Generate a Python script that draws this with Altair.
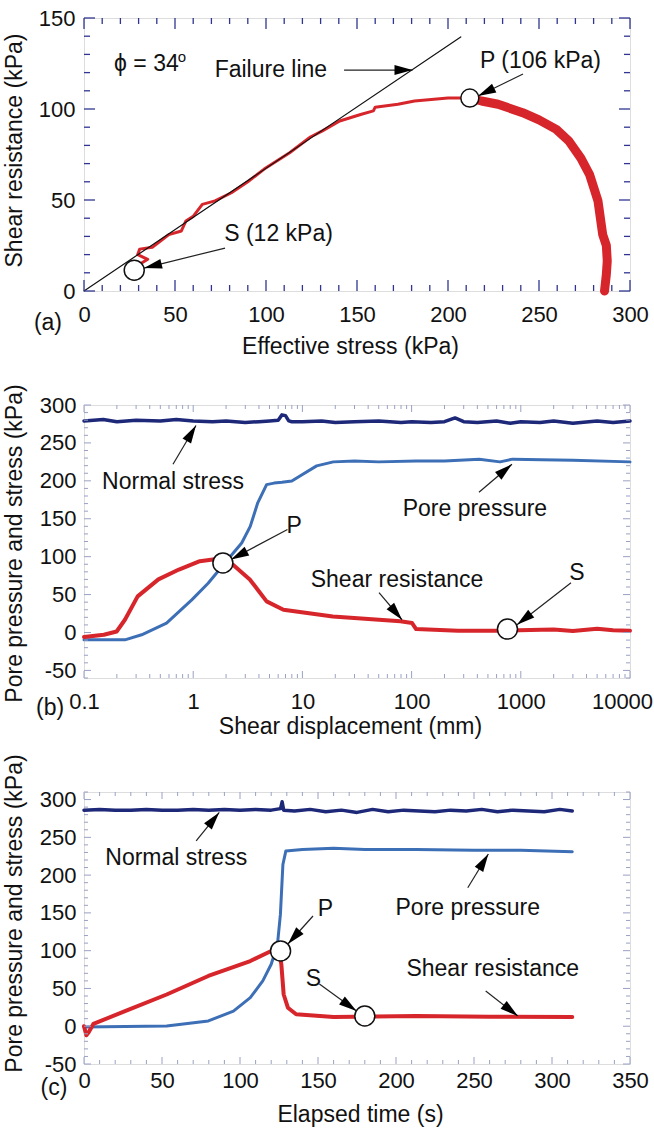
import math
import altair as alt
import pandas as pd

FONT = "Liberation Sans"
RED = "#d7262b"
NAVY = "#1d2878"
BLUE = "#3d6fb6"
FRAME = "#2f3590"
TXT = "#111111"
TICK_BC = "#9aa0c4"

# ---------------- panel (a): stress path ----------------
a_pre_x = [286, 287, 287.5, 287, 285, 282.4, 277.8, 273, 266.4, 259.5, 250, 241, 227.5, 218.4, 212]
a_pre_y = [0, 9, 16.5, 25, 31, 49.5, 64, 73, 82.4, 88.8, 94, 98, 102.6, 104.4, 106]
a_post_x = [212, 200, 181.6, 172.5, 160, 159, 152, 140.5, 131, 124.4, 113, 99, 90, 81, 72, 65, 60,
            56, 53.5, 46.6, 42, 37.5, 30.6, 29.5, 35, 31, 27.6]
a_post_y = [106, 106, 104.4, 102.6, 101, 99, 97, 93.4, 88, 84.6, 76, 67, 60, 54, 49.5, 47.6, 41,
            38.5, 33, 31, 27.5, 24, 23, 20, 17.4, 15, 11.4]
fail_x = [0, 207]
fail_y = [0, 139.6]
a_circ_x = [212, 27.6]
a_circ_y = [106, 11.4]
a_circ_d = [18, 20]

# ---------------- panel (b): vs shear displacement ----------------
ns_b_x = [0.1, 0.15, 0.2, 0.3, 0.5, 0.7, 1, 1.5, 2, 3, 4, 5, 6, 6.5, 7, 7.5, 8, 10, 15, 20, 30, 50,
          80, 100, 150, 200, 250, 300, 400, 600, 800, 1000, 1500, 2000, 3000, 5000, 7000, 10000]
ns_b_y = [279, 281, 278, 280, 279, 281, 279, 278, 279, 277, 278, 279, 280, 287, 286, 279, 278, 278,
          279, 277, 278, 279, 277, 278, 277, 278, 283, 278, 277, 279, 276, 278, 277, 279, 276, 279,
          277, 279]
pp_b_x = [0.1, 0.237, 0.337, 0.57, 0.97, 1.37, 1.95, 2.78, 3.33, 3.9, 4.7, 5.5, 6.5, 8.0, 9.5, 13.5,
          19.2, 30, 50, 110, 200, 416, 645, 840, 1550, 3000, 10000]
pp_b_y = [-9.7, -9.7, -3, 12.4, 43, 65, 91.7, 118, 140, 171, 195, 197, 198, 199.8, 206.5, 219.7,
          225, 226, 225, 226.3, 226, 228.6, 225, 228.6, 227.8, 227, 225]
sr_b_x = [0.1, 0.152, 0.199, 0.237, 0.31, 0.48, 0.74, 1.15, 1.64, 2.3, 3.3, 4.7, 6.7, 19, 78.8, 101,
          110, 266, 645, 1550, 2000, 3000, 5000, 7000, 10000]
sr_b_y = [-6, -3, 1.3, 16.8, 47.6, 70, 83, 94, 97, 89.6, 70, 41, 30, 21, 14.7, 12.4, 4.5, 2.3, 2.3,
          3.5, 4, 2, 5, 3, 2.3]
b_circ_x = [1.87, 755]
b_circ_y = [91.7, 4.5]
b_circ_d = [20, 20]

# ---------------- panel (c): vs elapsed time ----------------
ns_c_x = [0, 10, 20, 30, 40, 50, 60, 70, 80, 90, 100, 110, 120, 126, 127, 128, 135, 145, 155, 165,
          175, 185, 195, 205, 215, 225, 235, 245, 255, 265, 275, 285, 295, 305, 313]
ns_c_y = [286, 287, 286, 286, 287, 286, 286, 287, 286, 287, 286, 287, 286, 288, 297, 286, 285, 287,
          284, 286, 283, 287, 284, 286, 285, 284, 286, 285, 287, 284, 286, 285, 284, 287, 285]
pp_c_x = [0, 53, 79.7, 95.8, 106.6, 114.6, 120, 124, 125.9, 127.5, 129.4, 140, 160, 180, 213, 250,
          280, 313]
pp_c_y = [-1, 0.3, 7, 20, 37.8, 60, 82, 108, 148, 214, 232, 234, 235.5, 234, 234, 233, 233, 231]
sr_c_x = [0, 1.5, 3, 6, 26.3, 53, 79.7, 106.6, 120, 124.8, 126.5, 128, 130.7, 136, 160, 213, 260, 313]
sr_c_y = [0, -12, -8, 3, 20, 42, 66.5, 86.3, 99.6, 104, 82, 42, 24.5, 15.8, 12.2, 13.5, 12.5, 12.2]
c_circ_x = [126, 180]
c_circ_y = [99.6, 13.5]
c_circ_d = [20, 20]

# ---------------- axis ticks ----------------
a_x_major = [0, 50, 100, 150, 200, 250, 300]
a_y_major = [0, 50, 100, 150]
a_x_minor = [v for v in range(0, 301, 10) if v % 50]
a_y_minor = [v for v in range(0, 151, 10) if v % 50]
b_x_major = [0.1, 1, 10, 100, 1000, 10000]
b_x_minor = [k * 10.0 ** d for d in range(-1, 4) for k in range(2, 10)]
bc_y_major = [-50, 0, 50, 100, 150, 200, 250, 300]
b_y_minor = [v for v in range(-60, 301, 10) if v % 50]
c_x_major = [0, 50, 100, 150, 200, 250, 300, 350]
c_x_minor = [v for v in range(0, 351, 10) if v % 50]
c_y_minor = [v for v in range(-50, 311, 10) if v % 50]

W = 546
HA, HB, HC = 273, 273, 272

HEAD = "M0,0L0.55,2L-0.55,2Z"


def head_df(arrows, fx, fy):
    rows = []
    for x0, y0, x1, y1 in arrows:
        dx = fx(x1) - fx(x0)
        dy = fy(y1) - fy(y0)
        ang = math.degrees(math.atan2(dx, -dy)) % 360
        rows.append(dict(x0=x0, y0=y0, x1=x1, y1=y1, ang=ang))
    return pd.DataFrame(rows)


def build_panel(H, xs, ys, xaxis, yaxis, xtitle, ytitle, lines, circles, arrows, texts, ticks,
                fx, fy):
    def X(f):
        return alt.X(f, scale=xs, axis=xaxis, title=xtitle)

    def Y(f):
        return alt.Y(f, scale=ys, axis=yaxis, title=ytitle)

    layers = []
    for lx, ly, col, sw in lines:
        df = pd.DataFrame({"x": lx, "y": ly, "o": list(range(len(lx)))})
        layers.append(
            alt.Chart(df).mark_line(color=col, strokeWidth=sw, strokeJoin="round",
                                    strokeCap="round").encode(x=X("x:Q"), y=Y("y:Q"), order="o:Q"))
    xmaj, xmin, ymaj, ymin, lmaj, lmin, tcol, tw = ticks
    # ticks (inward, on all four sides)
    for vals, L in [(xmaj, lmaj), (xmin, lmin)]:
        df = pd.DataFrame({"x": vals})
        base = alt.Chart(df).mark_rule(color=tcol, strokeWidth=tw)
        layers.append(base.encode(x=X("x:Q"), y=alt.value(H), y2=alt.value(H - L)))
        layers.append(base.encode(x=X("x:Q"), y=alt.value(0), y2=alt.value(L)))
    for vals, L in [(ymaj, lmaj), (ymin, lmin)]:
        df = pd.DataFrame({"y": vals})
        base = alt.Chart(df).mark_rule(color=tcol, strokeWidth=tw)
        layers.append(base.encode(y=Y("y:Q"), x=alt.value(0), x2=alt.value(L)))
        layers.append(base.encode(y=Y("y:Q"), x=alt.value(W), x2=alt.value(W - L)))
    hd = head_df(arrows, fx, fy)
    layers.append(alt.Chart(hd).mark_rule(color="#222222", strokeWidth=1.2).encode(
        x=X("x0:Q"), x2="x1:Q", y=Y("y0:Q"), y2="y1:Q"))
    layers.append(alt.Chart(hd).mark_point(shape=HEAD, filled=True, color="#000000", opacity=1,
                                           size=324, strokeWidth=0).encode(
        x=X("x1:Q"), y=Y("y1:Q"), angle=alt.Angle("ang:Q", scale=None)))
    cx, cy, cd = circles
    cdf = pd.DataFrame({"x": cx, "y": cy, "s": [d * d for d in cd]})
    layers.append(alt.Chart(cdf).mark_point(shape="circle", filled=True, fill="white",
                                            stroke="#111111", strokeWidth=1.5, opacity=1).encode(
        x=X("x:Q"), y=Y("y:Q"), size=alt.Size("s:Q", scale=None)))
    for tx, ty, lab, fs in texts:
        tdf = pd.DataFrame({"x": [tx], "y": [ty], "t": [lab]})
        layers.append(alt.Chart(tdf).mark_text(font=FONT, fontSize=fs, color=TXT, align="center",
                                               baseline="middle").encode(
            x=X("x:Q"), y=Y("y:Q"), text="t:N"))
    return alt.layer(*layers).properties(width=W, height=H)


def xaxis(values, title_x, title_y, pad, last_shift=0):
    kw = {}
    if last_shift:
        kw["labelOffset"] = alt.condition("datum.value == %s" % values[-1],
                                          alt.value(last_shift), alt.value(0))
    return alt.Axis(values=values, ticks=False, tickSize=0, domain=False, grid=False,
                    labelFont=FONT, labelFontSize=22, labelColor=TXT, labelPadding=pad,
                    labelFlush=False, labelOverlap=False, labelExpr="toString(datum.value)",
                    titleFont=FONT, titleFontSize=23, titleFontWeight="normal", titleColor=TXT,
                    titleX=title_x, titleY=title_y, titleBaseline="middle", titleAlign="center",
                    **kw)


def yaxis(values, title_y, pad):
    return alt.Axis(values=values, ticks=False, tickSize=0, domain=False, grid=False,
                    labelFont=FONT, labelFontSize=22, labelColor=TXT, labelPadding=pad,
                    labelFlush=False, labelOverlap=False, labelExpr="toString(datum.value)",
                    titleFont=FONT, titleFontSize=23, titleFontWeight="normal", titleColor=TXT,
                    titleX=-58, titleY=title_y, titleAngle=270, titleBaseline="bottom",
                    titleAlign="center")


# ---- panel (a)
xs_a = alt.Scale(domain=[0, 300], nice=False, zero=False)
ys_a = alt.Scale(domain=[0, 150], nice=False, zero=False)
fx_a = lambda v: v / 300 * W
fy_a = lambda v: HA - v / 150 * HA
arrows_a = [(142.9, 121.4, 180.5, 121.4), (241.2, 119.2, 216.5, 107.1), (77.5, 23.6, 33, 12.6)]
texts_a = [(34.3, 124.5, "ϕ = 34", 23), (53.8, 128.6, "o", 15), (102.7, 121.7, "Failure line", 23),
           (250.8, 126.4, "P (106 kPa)", 23), (106.9, 31.3, "S (12 kPa)", 23),
           (-19.8, -17.6, "(a)", 23)]
pa = build_panel(
    HA, xs_a, ys_a, xaxis(a_x_major, 266, 55, 13), yaxis(a_y_major, 132, 9),
    "Effective stress (kPa)", "Shear resistance (kPa)",
    [(a_post_x, a_post_y, RED, 3), (a_pre_x, a_pre_y, RED, 9), (fail_x, fail_y, "#111111", 1.2)],
    (a_circ_x, a_circ_y, a_circ_d), arrows_a, texts_a,
    (a_x_major, a_x_minor, a_y_major, a_y_minor, 11, 6, FRAME, 1.3), fx_a, fy_a)

# ---- panel (b)
xs_b = alt.Scale(type="log", domain=[0.1, 10000], nice=False)
ys_b = alt.Scale(domain=[-60, 300], nice=False, zero=False)
fx_b = lambda v: (math.log10(v) + 1) / 5 * W
fy_b = lambda v: HB * (300 - v) / 360
arrows_b = [(0.653, 221.9, 1.06, 273), (414, 184.9, 830, 221.9), (7.3, 135.9, 2.22, 96.2),
            (50.3, 52.5, 81.7, 16.8), (2884, 65.7, 923, 10.2)]
texts_b = [(0.653, 198, "Normal stress", 23), (380, 162.4, "Pore pressure", 23), (8.4, 140, "P", 23),
           (73.5, 69.7, "Shear resistance", 23), (3273, 79, "S", 23), (0.0489, -99.7, "(b)", 23)]
pb = build_panel(
    HB, xs_b, ys_b, xaxis(b_x_major, 266, 48, 13, last_shift=-8), yaxis(bc_y_major, 138, 8),
    "Shear displacement (mm)", "Pore pressure and stress (kPa)",
    [(ns_b_x, ns_b_y, NAVY, 3.5), (pp_b_x, pp_b_y, BLUE, 3), (sr_b_x, sr_b_y, RED, 4)],
    (b_circ_x, b_circ_y, b_circ_d), arrows_b, texts_b,
    (b_x_major, b_x_minor, bc_y_major, b_y_minor, 7, 4, TICK_BC, 1), fx_b, fy_b)

# ---- panel (c)
xs_c = alt.Scale(domain=[0, 350], nice=False, zero=False)
ys_c = alt.Scale(domain=[-50, 310], nice=False, zero=False)
fx_c = lambda v: v / 350 * W
fy_c = lambda v: HC * (310 - v) / 360
arrows_c = [(71.9, 245.2, 86.7, 283), (246, 183.3, 259.2, 228), (146.8, 145.9, 130.7, 108.8),
            (150.9, 55.9, 174.7, 20.2), (257.5, 46.6, 278.1, 13.5)]
texts_c = [(59.1, 223, "Normal stress", 23), (246, 156.9, "Pore pressure", 23), (154.8, 155.2, "P", 23),
           (147.1, 62.5, "S", 23), (262, 75.8, "Shear resistance", 23), (-19.3, -81.7, "(c)", 23)]
pc = build_panel(
    HC, xs_c, ys_c, xaxis(c_x_major, 276, 50, 6), yaxis(bc_y_major, 121, 8),
    "Elapsed time (s)", "Pore pressure and stress (kPa)",
    [(ns_c_x, ns_c_y, NAVY, 3.5), (pp_c_x, pp_c_y, BLUE, 3), (sr_c_x, sr_c_y, RED, 4)],
    (c_circ_x, c_circ_y, c_circ_d), arrows_c, texts_c,
    (c_x_major, c_x_minor, bc_y_major, c_y_minor, 7, 4, TICK_BC, 1), fx_c, fy_c)

chart = alt.vconcat(pa, pb, pc, spacing=114, bounds="flush").properties(
    padding={"left": 2, "top": 6, "right": 0, "bottom": 5}
).configure_view(stroke=FRAME, strokeWidth=1.6).configure(font=FONT, background="white")

chart.save("out.html", embed_options={"renderer": "svg", "actions": False})
